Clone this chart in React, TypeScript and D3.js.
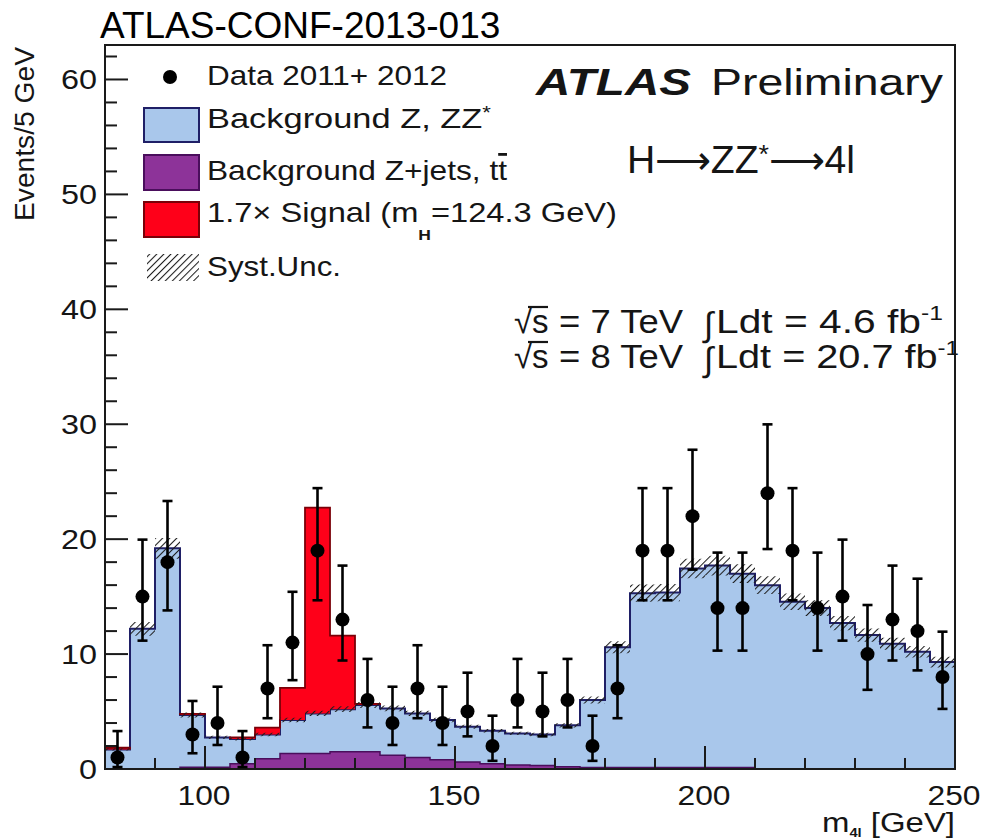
import React from 'react';
import * as d3 from 'd3';

// m4l bins (lower edges, 5 GeV wide)
const binLow = [80, 85, 90, 95, 100, 105, 110, 115, 120, 125, 130, 135, 140, 145, 150, 155, 160, 165, 170, 175, 180, 185, 190, 195, 200, 205, 210, 215, 220, 225, 230, 235, 240, 245];
const BIN_WIDTH = 5;

// Observed events per bin and their 68% Poisson interval
const dataCounts = [1, 15, 18, 3, 4, 1, 7, 11, 19, 13, 6, 4, 7, 4, 5, 2, 6, 5, 6, 2, 7, 19, 19, 22, 14, 14, 24, 19, 14, 15, 10, 13, 12, 8];
const dataLow = [0.17, 11.17, 13.8, 1.37, 2.09, 0.17, 4.42, 7.73, 14.68, 9.44, 3.62, 2.09, 4.42, 2.09, 2.84, 0.71, 3.62, 2.84, 3.62, 0.71, 4.42, 14.68, 14.68, 17.35, 10.3, 10.3, 19.14, 14.68, 10.3, 11.17, 6.89, 9.44, 8.58, 5.23];
const dataHigh = [3.3, 19.96, 23.32, 5.92, 7.16, 3.3, 10.77, 15.42, 24.44, 17.7, 9.58, 7.16, 10.77, 7.16, 8.38, 4.64, 9.58, 8.38, 9.58, 4.64, 10.77, 24.44, 24.44, 27.78, 18.83, 18.83, 29.99, 24.44, 18.83, 19.96, 14.27, 17.7, 16.56, 11.95];

// Total background (Z, ZZ* + Z+jets, tt)
const bgTotal = [1.7, 12.2, 19.2, 4.7, 2.75, 2.6, 3.0, 4.26, 4.84, 5.2, 5.57, 5.27, 4.84, 4.26, 3.68, 3.33, 3.1, 3.0, 3.8, 6.0, 10.6, 15.3, 15.35, 17.45, 17.7, 17.0, 16.0, 14.55, 14.0, 12.7, 11.65, 10.9, 10.2, 9.3];
// Reducible background Z+jets, tt
const bgZjets = [0, 0, 0, 0.15, 0.15, 0.45, 0.9, 1.35, 1.35, 1.5, 1.5, 1.2, 1.0, 0.8, 0.6, 0.45, 0.35, 0.3, 0.2, 0.12, 0.12, 0.12, 0.12, 0.12, 0.12, 0.12, 0, 0, 0, 0, 0, 0, 0, 0];
// 1.7 x SM signal, mH = 124.3 GeV
const signal = [0.15, 0, 0, 0.1, 0, 0.15, 0.6, 2.8, 17.9, 6.4, 0.1, 0, 0, 0, 0, 0, 0, 0, 0, 0, 0, 0, 0, 0, 0, 0, 0, 0, 0, 0, 0, 0, 0, 0];
// Systematic uncertainty on the total background (half width)
const systUnc = [0.1, 0.6, 0.9, 0.22, 0.14, 0.13, 0.15, 0.2, 0.23, 0.25, 0.27, 0.25, 0.23, 0.2, 0.18, 0.16, 0.15, 0.15, 0.18, 0.3, 0.52, 0.75, 0.75, 0.85, 0.86, 0.82, 0.78, 0.72, 0.68, 0.62, 0.57, 0.53, 0.5, 0.46];

const xMajorTicks = [100, 150, 200, 250];
const yMajorTicks = [0, 10, 20, 30, 40, 50, 60];

const W = 983;
const H = 840;
const FONT = '"Liberation Sans", Arial, Helvetica, sans-serif';

const x = d3.scaleLinear().domain([80, 250]).range([105, 955]);
const y = d3.scaleLinear().domain([0, 63]).range([769, 45]);

const C = {
  blue: '#a9c7eb',
  blueLine: '#1f1f66',
  purple: '#8d3399',
  purpleLine: '#4a0e5c',
  red: '#fe0019',
  redLine: '#7a0008',
  hatch: '#1e1e1e',
  axis: '#1a1a1a',
  text: '#151515',
};

type P = { x: number; lo: number; hi: number };

// Double each bin into its two edges so linear shapes draw steps
function stepPoints(lo: number[], hi: number[]): P[] {
  const pts: P[] = [];
  binLow.forEach((b, i) => {
    pts.push({ x: b, lo: lo[i], hi: hi[i] });
    pts.push({ x: b + BIN_WIDTH, lo: lo[i], hi: hi[i] });
  });
  return pts;
}

const area = d3
  .area<P>()
  .x((d) => x(d.x))
  .y0((d) => y(d.lo))
  .y1((d) => y(d.hi));

const line = d3
  .line<P>()
  .x((d) => x(d.x))
  .y((d) => y(d.hi));

// Outline of runs of bins where the top exceeds the base
function runOutlines(base: number[], top: number[]): string[] {
  const paths: string[] = [];
  let run: P[] = [];
  const flush = () => {
    if (run.length) {
      const first = run[0];
      const last = run[run.length - 1];
      const pts = [{ x: first.x, lo: 0, hi: first.lo }, ...run, { x: last.x, lo: 0, hi: last.lo }];
      paths.push(line(pts) || '');
    }
    run = [];
  };
  binLow.forEach((b, i) => {
    if (top[i] > base[i]) {
      run.push({ x: b, lo: base[i], hi: top[i] });
      run.push({ x: b + BIN_WIDTH, lo: base[i], hi: top[i] });
    } else {
      flush();
    }
  });
  flush();
  return paths;
}

const zeros = binLow.map(() => 0);
const sigTop = bgTotal.map((v, i) => v + signal[i]);
const systLo = bgTotal.map((v, i) => v - systUnc[i]);
const systHi = bgTotal.map((v, i) => v + systUnc[i]);

const yMinor = d3.range(0, 63, 2).filter((v) => v % 10 !== 0);
const xMinor = d3.range(90, 250, 10).filter((v) => v % 50 !== 0);

// sqrt(s) with the radical's bar over the s
function SqrtS({ x0, base }: { x0: number; base: number }) {
  return (
    <g>
      <text x={x0} y={base} fontSize={33} fontFamily={FONT} fill={C.text}>
        √s
      </text>
      <line x1={x0 + 14} x2={x0 + 34} y1={base - 26} y2={base - 26} stroke={C.text} strokeWidth={2.2} />
    </g>
  );
}

// Beam energy and integrated luminosity line
function LumiLine({ base, energy, lumi, lumiLen }: { base: number; energy: string; lumi: string; lumiLen: number }) {
  return (
    <g>
      <SqrtS x0={514} base={base} />
      <text x={559} y={base} fontSize={33} fontFamily={FONT} fill={C.text} textLength={124} lengthAdjust="spacingAndGlyphs">
        = {energy} TeV
      </text>
      <text x={704} y={base + 3} fontSize={34} fontFamily={FONT} fill={C.text}>
        ∫
      </text>
      <text x={716} y={base} fontSize={33} fontFamily={FONT} fill={C.text} textLength={lumiLen} lengthAdjust="spacingAndGlyphs">
        Ldt = {lumi} fb
        <tspan fontSize={20} dy={-13}>
          -1
        </tspan>
      </text>
    </g>
  );
}

export default function App() {
  const bluePath = area(stepPoints(zeros, bgTotal)) || '';
  const blueLine = line(stepPoints(zeros, bgTotal)) || '';
  const purplePath = area(stepPoints(zeros, bgZjets)) || '';
  const purpleLines = runOutlines(zeros, bgZjets);
  const redPath = area(stepPoints(bgTotal, sigTop)) || '';
  const redLines = runOutlines(bgTotal, sigTop);
  const systPath = area(stepPoints(systLo, systHi)) || '';

  const txt = { fontFamily: FONT, fill: C.text } as const;

  return (
    <svg
      width={W}
      height={H}
      viewBox={`0 0 ${W} ${H}`}
      style={{ position: 'absolute', left: 0, top: 0, display: 'block', background: '#fff' }}
    >
      <defs>
        <pattern id="syst-hatch" width="5" height="5" patternUnits="userSpaceOnUse" patternTransform="rotate(45)">
          <line x1="0" y1="0" x2="0" y2="5" stroke={C.hatch} strokeWidth="2.1" />
        </pattern>
        <clipPath id="frame-clip">
          <rect x={x(80)} y={y(63)} width={x(250) - x(80)} height={y(0) - y(63)} />
        </clipPath>
      </defs>

      <rect x={0} y={0} width={W} height={H} fill="#fff" />

      {/* Title */}
      <text x={100} y={38} fontSize={37} fontFamily={FONT} fill="#000">
        ATLAS-CONF-2013-013
      </text>

      <g clipPath="url(#frame-clip)">
        {/* Stacked backgrounds and signal */}
        <path d={bluePath} fill={C.blue} />
        <path d={blueLine} fill="none" stroke={C.blueLine} strokeWidth={2} />
        <path d={purplePath} fill={C.purple} />
        {purpleLines.map((d, i) => (
          <path key={`pl${i}`} d={d} fill="none" stroke={C.purpleLine} strokeWidth={1.5} />
        ))}
        <path d={redPath} fill={C.red} />
        {redLines.map((d, i) => (
          <path key={`rl${i}`} d={d} fill="none" stroke={C.redLine} strokeWidth={1.8} />
        ))}
        {/* Systematic uncertainty band */}
        <path d={systPath} fill="url(#syst-hatch)" />
      </g>

      {/* Axis ticks */}
      <g stroke={C.axis} strokeWidth={2}>
        {yMajorTicks.map((t) => (
          <line key={`ym${t}`} x1={x(80)} x2={x(80) + 23} y1={y(t)} y2={y(t)} />
        ))}
        {yMinor.map((t) => (
          <line key={`yn${t}`} x1={x(80)} x2={x(80) + 12} y1={y(t)} y2={y(t)} />
        ))}
        {xMajorTicks.map((t) => (
          <line key={`xm${t}`} x1={x(t)} x2={x(t)} y1={y(0)} y2={y(0) - 23} />
        ))}
        {xMinor.map((t) => (
          <line key={`xn${t}`} x1={x(t)} x2={x(t)} y1={y(0)} y2={y(0) - 11} />
        ))}
      </g>

      {/* Frame */}
      <rect
        x={x(80)}
        y={y(63)}
        width={x(250) - x(80)}
        height={y(0) - y(63)}
        fill="none"
        stroke={C.axis}
        strokeWidth={2}
      />

      {/* Tick labels */}
      {yMajorTicks.map((t) => (
        <text key={`yl${t}`} x={97} y={y(t) + 10} fontSize={27} textAnchor="end" {...txt} textLength={t === 0 ? 18 : 36} lengthAdjust="spacingAndGlyphs">
          {t}
        </text>
      ))}
      {xMajorTicks.map((t) => (
        <text key={`xl${t}`} x={x(t) - 1} y={805} fontSize={27} textAnchor="middle" {...txt} textLength={53} lengthAdjust="spacingAndGlyphs">
          {t}
        </text>
      ))}

      {/* Axis titles */}
      <text x={822} y={832} fontSize={27} {...txt} textLength={133} lengthAdjust="spacingAndGlyphs">
        m
        <tspan fontSize={12} fontWeight="bold" dy={5}>
          4l
        </tspan>
        <tspan dy={-5}> [GeV]</tspan>
      </text>
      <text
        transform="translate(34,47) rotate(-90)"
        fontSize={27}
        textAnchor="end"
        {...txt}
        textLength={174}
        lengthAdjust="spacingAndGlyphs"
      >
        Events/5 GeV
      </text>

      {/* Data points */}
      <g stroke="#000" strokeWidth={2.6}>
        {binLow.map((b, i) => {
          const cx = x(b + BIN_WIDTH / 2);
          return (
            <g key={`d${i}`}>
              <line x1={cx} x2={cx} y1={y(dataLow[i])} y2={y(dataHigh[i])} />
              <line x1={cx - 5} x2={cx + 5} y1={y(dataHigh[i])} y2={y(dataHigh[i])} />
              <line x1={cx - 5} x2={cx + 5} y1={y(dataLow[i])} y2={y(dataLow[i])} />
              <circle cx={cx} cy={y(dataCounts[i])} r={7} fill="#000" stroke="none" />
            </g>
          );
        })}
      </g>

      {/* Legend */}
      <circle cx={170} cy={77} r={7} fill="#000" />
      <text x={207} y={85} fontSize={28} {...txt} textLength={240} lengthAdjust="spacingAndGlyphs">
        Data 2011+ 2012
      </text>

      <rect x={144} y={108} width={55} height={34} fill={C.blue} stroke={C.blueLine} strokeWidth={2} />
      <text x={207} y={128} fontSize={28} {...txt} textLength={284} lengthAdjust="spacingAndGlyphs">
        Background Z, ZZ
        <tspan fontSize={18} dy={-9}>
          *
        </tspan>
      </text>

      <rect x={144} y={155} width={55} height={35} fill={C.purple} stroke={C.purpleLine} strokeWidth={2} />
      <text x={207} y={180} fontSize={28} {...txt} textLength={300} lengthAdjust="spacingAndGlyphs">
        Background Z+jets, t<tspan style={{ textDecoration: 'overline' }}>t</tspan>
      </text>

      <rect x={144} y={202} width={55} height={35} fill={C.red} stroke={C.redLine} strokeWidth={2} />
      <text x={207} y={222} fontSize={28} {...txt} textLength={410} lengthAdjust="spacingAndGlyphs">
        1.7× Signal (m
        <tspan fontSize={15} fontWeight="bold" dy={18}>
          H
        </tspan>
        <tspan dy={-18}>=124.3 GeV)</tspan>
      </text>

      <rect x={147} y={254} width={52} height={27} fill="url(#syst-hatch)" />
      <text x={207} y={276} fontSize={28} {...txt} textLength={134} lengthAdjust="spacingAndGlyphs">
        Syst.Unc.
      </text>

      {/* ATLAS label */}
      <text x={536} y={95} fontSize={37} fontWeight="bold" fontStyle="italic" {...txt} textLength={155} lengthAdjust="spacingAndGlyphs">
        ATLAS
      </text>
      <text x={711} y={95} fontSize={37} {...txt} textLength={232} lengthAdjust="spacingAndGlyphs">
        Preliminary
      </text>

      {/* Channel */}
      <text x={627} y={173} fontSize={38} {...txt} textLength={228} lengthAdjust="spacingAndGlyphs">
        H⟶ZZ
        <tspan fontSize={26} dy={-10}>
          *
        </tspan>
        <tspan dy={10}>⟶4l</tspan>
      </text>

      {/* Energies and luminosities */}
      <LumiLine base={333} energy="7" lumi="4.6" lumiLen={227} />
      <LumiLine base={368} energy="8" lumi="20.7" lumiLen={243} />
    </svg>
  );
}
